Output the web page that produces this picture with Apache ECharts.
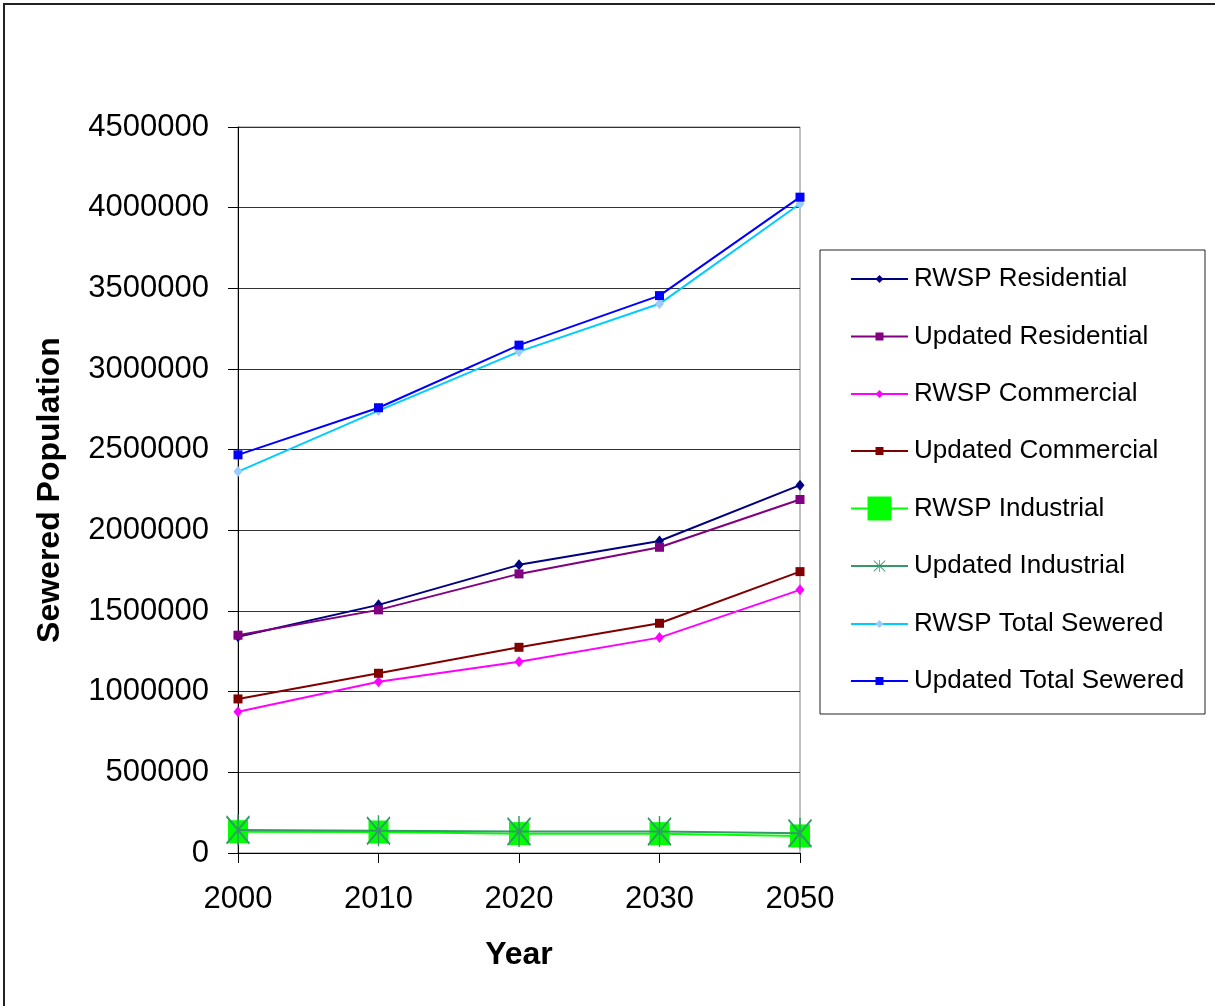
<!DOCTYPE html>
<html>
<head>
<meta charset="utf-8">
<script src="https://cdn.jsdelivr.net/npm/echarts@6/dist/echarts.min.js"></script>
<style>
  html, body { margin: 0; padding: 0; background: #fff; }
  #chart { width: 1215px; height: 1006px; }
</style>
</head>
<body>
<div id="chart"></div>
<script>
// Sewered population projections by sector
const years = ['2000', '2010', '2020', '2030', '2050'];
const yTicks = { min: 0, max: 4500000, step: 500000 };

const rwspResidential    = [1340000, 1538000, 1786000, 1934000, 2280000];
const updatedResidential = [1350000, 1507000, 1730000, 1895000, 2191000];
const rwspCommercial     = [876000, 1062000, 1186000, 1335000, 1631000];
const updatedCommercial  = [955000, 1114000, 1275000, 1424000, 1744000];
const rwspIndustrial     = [132000, 130000, 120000, 120000, 106000];
const updatedIndustrial  = [143000, 138000, 133000, 133000, 122000];
const rwspTotal          = [2364000, 2742000, 3108000, 3404000, 4024000];
const updatedTotal       = [2468000, 2760000, 3148000, 3455000, 4065000];

const seriesNames = [
  'RWSP Residential', 'Updated Residential', 'RWSP Commercial', 'Updated Commercial',
  'RWSP Industrial', 'Updated Industrial', 'RWSP Total Sewered', 'Updated Total Sewered'
];

const FONT = '"Liberation Sans", Arial, sans-serif';

// asterisk marker: vertical bar plus two diagonals
const asterisk = 'path://M47,0L53,0L53,100L47,100Z M0,9L4,3L100,91L96,97Z M96,3L100,9L4,97L0,91Z';

function lineSeries(name, data, lineColor, markColor, symbol, size, z) {
  return {
    name: name,
    type: 'line',
    data: data,
    symbol: symbol,
    symbolSize: size,
    symbolKeepAspect: false,
    showSymbol: true,
    z: z,
    lineStyle: { color: lineColor, width: 2 },
    itemStyle: { color: markColor, borderWidth: 0 },
    emphasis: { disabled: true },
    animation: false
  };
}

const series = [
  lineSeries(seriesNames[0], rwspResidential, '#000080', '#000080', 'diamond', [9, 11], 2),
  lineSeries(seriesNames[1], updatedResidential, '#800080', '#800080', 'rect', 9, 3),
  lineSeries(seriesNames[2], rwspCommercial, '#FF00FF', '#FF00FF', 'diamond', [9, 11], 4),
  lineSeries(seriesNames[3], updatedCommercial, '#800000', '#800000', 'rect', 9, 5),
  lineSeries(seriesNames[4], rwspIndustrial, '#00FF00', '#00FF00', 'rect', [20, 23], 6),
  lineSeries(seriesNames[5], updatedIndustrial, '#339966', '#339966', asterisk, [24, 31], 7),
  lineSeries(seriesNames[6], rwspTotal, '#00CCFF', '#99CCFF', 'diamond', [9, 11], 8),
  lineSeries(seriesNames[7], updatedTotal, '#0000FF', '#0000FF', 'rect', 9, 9)
];

// one legend per entry so each key can carry its own marker size
const legendCenters = [279, 336.5, 394, 451, 508.5, 566, 624, 681];
const legendIconHeights = [10, 10, 10, 10, 30, 15, 10, 10];
const legends = seriesNames.map(function (name, i) {
  return {
    data: [name],
    orient: 'vertical',
    left: 850,
    top: legendCenters[i] - 15,
    padding: 0,
    itemWidth: 57,
    itemHeight: legendIconHeights[i],
    itemGap: 0,
    selectedMode: false,
    textStyle: { fontFamily: FONT, fontSize: 26, color: '#000', lineHeight: 30, padding: [0, 0, 0, 1] }
  };
});

const chart = echarts.init(document.getElementById('chart'), null, { renderer: 'canvas' });
chart.setOption({
  backgroundColor: '#fff',
  animation: false,
  grid: {
    left: 238, right: 415, top: 127, bottom: 153,
    show: true, borderColor: '#808080', borderWidth: 1, backgroundColor: 'transparent'
  },
  legend: legends,
  xAxis: {
    type: 'category',
    data: years,
    boundaryGap: false,
    name: 'Year',
    nameLocation: 'middle',
    nameGap: 86,
    nameTextStyle: { fontFamily: FONT, fontSize: 32, fontWeight: 'bold', color: '#000' },
    axisLine: { show: true, lineStyle: { color: '#000', width: 1 } },
    axisTick: { show: true, length: 10, lineStyle: { color: '#000' } },
    axisLabel: { fontFamily: FONT, fontSize: 31, color: '#000', margin: 31 },
    splitLine: { show: false }
  },
  yAxis: {
    type: 'value',
    min: yTicks.min,
    max: yTicks.max,
    interval: yTicks.step,
    name: 'Sewered Population',
    nameLocation: 'middle',
    nameGap: 172,
    nameTextStyle: { fontFamily: FONT, fontSize: 32, fontWeight: 'bold', color: '#000' },
    axisLine: { show: true, lineStyle: { color: '#000', width: 1 } },
    axisTick: { show: true, length: 10, lineStyle: { color: '#000' } },
    axisLabel: {
      fontFamily: FONT, fontSize: 31, color: '#000', margin: 29,
      formatter: function (v) { return String(v); }
    },
    splitLine: { show: true, lineStyle: { color: '#333', width: 1 } }
  },
  graphic: [
    {
      type: 'rect', silent: true, z: -1,
      shape: { x: 4, y: 4, width: 1240, height: 1040 },
      style: { fill: 'none', stroke: '#222', lineWidth: 2 }
    },
    {
      type: 'rect', silent: true, z: -1,
      shape: { x: 820, y: 250, width: 385, height: 464 },
      style: { fill: '#fff', stroke: '#222', lineWidth: 1 }
    }
  ],
  series: series
});
</script>
</body>
</html>
